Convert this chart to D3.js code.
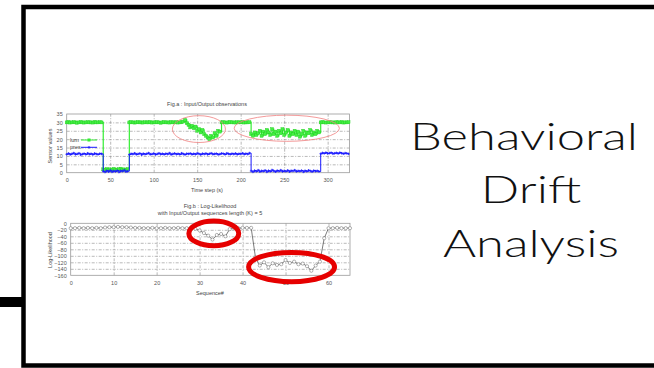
<!DOCTYPE html>
<html>
<head>
<meta charset="utf-8">
<script src="https://cdn.jsdelivr.net/npm/d3@7"></script>
<style>
  body { margin: 0; background: #fff; }
  svg { display: block; }
  .tick text { font-family: "Liberation Sans", Arial, sans-serif; font-size: 5.5px; fill: #555; }
  .grid line { stroke: #8a8a8a; stroke-width: 0.6; stroke-dasharray: 3,1.5,1,1.5; }
  .grid path { display: none; }
  .small { font-family: "Liberation Sans", Arial, sans-serif; font-size: 5.5px; fill: #444; }
</style>
</head>
<body>
<div id="chart"></div>
<script>
// time step between stored samples (s)
const timeStep = 2;

// Fig.a : lum samples, t = 0, 2, 4 ... 324
const lumValues = [
  30, 30.2, 29.9, 30, 30.1, 30, 29.8, 30, 30.2, 30, 29.9, 30, 30.1, 30, 30, 29.9, 30.2, 30, 30, 30.1, 30,
  2, 1.5, 2.2, 1.8, 2, 1.6, 2.3, 1.9, 1.7, 2.1, 2.4, 1.8, 2, 1.6, 2.2,
  30, 30.1, 30, 29.9, 30, 30.2, 30, 30, 29.9, 30.1, 30, 30, 30.2, 29.9, 30, 30, 30.1, 30, 29.8, 30, 30.1, 30, 30, 29.9, 30.2, 30, 30, 30.1, 29.9, 30, 30.1,
  30.5, 31.5, 29.5, 28.5, 27, 28, 26.5, 27.5, 25, 26, 24, 25.5, 23, 22, 21, 20, 22, 21, 23.5, 22, 25, 24.5,
  30, 30.1, 30, 29.9, 30, 30.2, 30, 30, 29.9, 30.1, 30, 30, 30.2, 29.9, 30, 30, 30.1,
  23, 22, 24, 22.5, 23.5, 25, 22, 24.5, 23, 25.5, 24, 22.5, 26, 23, 24.5, 22, 25, 23.5, 26, 22.5,
  24, 25.5, 22, 24, 23, 25, 22.5, 24.5, 21.5, 23, 25, 22, 24, 23.5, 25.5, 22.5, 24, 23, 25, 24,
  30, 30.1, 30, 29.9, 30, 30.2, 30, 30, 29.9, 30.1, 30, 30, 30.2, 29.9, 30, 30, 30.1
];

// Fig.a : pres samples, t = 0, 2, 4 ... 324
const presValues = [
  11, 11.5, 10.8, 11.3, 11.7, 10.9, 11.2, 11.6, 10.7, 11.1, 11.4, 10.9, 11.6, 11, 11.3, 10.8, 11.5, 11.1, 10.9, 11.4, 11.2,
  0.8, 0.4, 1.2, 0.6, 1.4, 0.5, 1, 0.7, 1.3, 0.4, 1.1, 0.9, 1.5, 0.6, 0.9,
  10.8, 11.3, 11.1, 11.6, 10.9, 11.2, 11.5, 10.7, 11.4, 11, 11.3, 11.7, 10.9, 11.1, 11.5, 10.8, 11.2, 11.6, 11, 11.3,
  10.9, 11.4, 11.1, 11.7, 10.8, 11.2, 11.5, 11, 11.3, 10.9, 11.6, 11.1, 10.8, 11.4, 11.2, 11.5, 10.9, 11.3, 11, 11.6,
  11.2, 10.8, 11.4, 11.1, 11.5, 10.9, 11.3, 11.6, 11, 11.2, 11.4, 10.8, 11.1, 11.5, 11.3, 10.9, 11.6, 11.2, 11, 11.4,
  11.1, 11.5, 10.9, 11.3, 11.2, 11.6, 11, 11.4, 11.1, 11.7,
  1, 0.5, 1.3, 0.8, 1.5, 0.6, 1.1, 0.9, 1.4, 0.5, 1.2, 0.8, 1.6, 1, 0.6, 1.3, 0.9, 1.5, 0.7, 1.1,
  0.8, 1.4, 0.6, 1.2, 1, 1.5, 0.7, 1.1, 0.9, 1.3, 0.5, 1.2, 0.8, 1.4, 1, 0.6, 1.3, 0.9, 1.1, 0.7,
  11.3, 11.8, 11.5, 12, 11.4, 11.7, 11.9, 11.3, 11.6, 11.8, 11.4, 12, 11.6, 11.3, 11.7, 11.5, 11.2
];

// Fig.b : log-likelihood for sequence# 0 ... 65
const logLikValues = [
  -15, -15, -14, -15, -14, -15, -14, -15, -13,
  -12, -12, -11, -12, -12, -13,
  -14, -14, -15, -15, -14, -15, -15, -14, -15, -15, -14, -15, -15, -14,
  -17, -22, -30, -38, -50, -36, -33, -40, -18, -15, -15, -14, -14, -14,
  -105, -130, -120, -135, -123, -128, -126, -113, -122, -118, -126, -124, -132, -146, -130, -118,
  -46,
  -15, -15, -14, -15, -15, -15
];

const xTicksA = [0, 50, 100, 150, 200, 250, 300];
const yTicksA = [0, 5, 10, 15, 20, 25, 30, 35];
const xTicksB = [0, 10, 20, 30, 40, 50, 60];
const yTicksB = [0, -20, -40, -60, -80, -100, -120, -140, -160];

// highlighted regions: [centre x, centre y, half-width, half-height] in data units
const driftZonesA = [[152, 26, 30.5, 8], [253, 26.5, 60.5, 7.8]];
const driftZonesB = [[33.3, -31, 5.8, 38], [51.4, -134.5, 10, 45]];

const titleLines = ['Behavioral', 'Drift', 'Analysis'];

const W = 654, H = 368;
const svg = d3.select('#chart').append('svg').attr('width', W).attr('height', H);

// slide frame
svg.append('rect').attr('x', 0).attr('y', 297).attr('width', 23).attr('height', 10).attr('fill', '#000');
svg.append('path')
  .attr('d', 'M 660 7 L 23.5 7 L 23.5 365.5 L 660 365.5')
  .attr('fill', 'none').attr('stroke', '#000').attr('stroke-width', 4.5);

// ---------- Fig.a ----------
const xA = d3.scaleLinear().domain([0, 325]).range([66.7, 349.4]);
const yA = d3.scaleLinear().domain([0, 35]).range([172.7, 114]);

function grid(g, x, y, xt, yt) {
  const [x0, x1] = x.range();
  const [y0, y1] = y.range();
  g.append('g').attr('class', 'grid').attr('transform', `translate(0,${y0})`)
    .call(d3.axisBottom(x).tickValues(xt).tickSize(-(y0 - y1)).tickFormat(''));
  g.append('g').attr('class', 'grid').attr('transform', `translate(${x0},0)`)
    .call(d3.axisLeft(y).tickValues(yt).tickSize(-(x1 - x0)).tickFormat(''));
}

function axes(g, x, y, xt, yt, xoff, yoff) {
  const [x0] = x.range();
  const [y0] = y.range();
  const ax = g.append('g').attr('transform', `translate(0,${y0 + xoff})`)
    .call(d3.axisBottom(x).tickValues(xt).tickSize(0).tickPadding(0));
  const ay = g.append('g').attr('transform', `translate(${x0 - yoff},0)`)
    .call(d3.axisLeft(y).tickValues(yt).tickSize(0).tickPadding(0));
  ax.select('.domain').remove();
  ay.select('.domain').remove();
  ay.selectAll('text').attr('dy', '0.35em');
}

const gA = svg.append('g');
grid(gA, xA, yA, xTicksA.slice(1), yTicksA.slice(1, -1));
gA.append('rect').attr('x', xA(0)).attr('y', yA(35)).attr('width', xA(325) - xA(0)).attr('height', yA(0) - yA(35))
  .attr('fill', 'none').attr('stroke', '#9a9a9a').attr('stroke-width', 0.8);
axes(gA, xA, yA, xTicksA, yTicksA, 5.5, 4);

const lumData = lumValues.map((v, i) => [i * timeStep, v]);
const presData = presValues.map((v, i) => [i * timeStep, v]);
const lineA = d3.line().x(d => xA(d[0])).y(d => yA(d[1])).curve(d3.curveStepAfter);

gA.append('path').datum(lumData).attr('d', lineA).attr('fill', 'none').attr('stroke', '#33ee33').attr('stroke-width', 1.2);
gA.selectAll('.lum').data(lumData).enter().append('rect').attr('class', 'lum')
  .attr('x', d => xA(d[0]) - 1.5).attr('y', d => yA(d[1]) - 1.5).attr('width', 3).attr('height', 3)
  .attr('fill', '#44f044').attr('stroke', '#22cc22').attr('stroke-width', 0.4);

gA.append('path').datum(presData).attr('d', lineA).attr('fill', 'none').attr('stroke', '#1a1aff').attr('stroke-width', 1);
gA.selectAll('.pres').data(presData).enter().append('path').attr('class', 'pres')
  .attr('d', d => `M${xA(d[0]) - 1.3},${yA(d[1])}h2.6M${xA(d[0])},${yA(d[1]) - 1.3}v2.6`)
  .attr('stroke', '#1a1aff').attr('stroke-width', 0.8);

// legend
const legA = [['lum', '#33ee33', 140], ['pres', '#1a1aff', 147.3]];
legA.forEach(([name, col, ly]) => {
  gA.append('text').attr('class', 'small').attr('x', 70).attr('y', ly).attr('dy', '0.35em').text(name);
  gA.append('line').attr('x1', 81).attr('x2', 97).attr('y1', ly).attr('y2', ly).attr('stroke', col).attr('stroke-width', 1);
});
gA.append('rect').attr('x', 87.5).attr('y', 138.5).attr('width', 3).attr('height', 3).attr('fill', '#33ee33');
gA.append('path').attr('d', 'M87.7,147.3h2.6M89,146v2.6').attr('stroke', '#1a1aff').attr('stroke-width', 0.8);

gA.selectAll('.zoneA').data(driftZonesA).enter().append('ellipse')
  .attr('cx', d => xA(d[0])).attr('cy', d => yA(d[1]))
  .attr('rx', d => xA(d[2]) - xA(0)).attr('ry', d => yA(0) - yA(d[3]))
  .attr('fill', 'none').attr('stroke', '#f08080').attr('stroke-width', 0.8);

gA.append('text').attr('class', 'small').attr('x', 207).attr('y', 104.5).attr('text-anchor', 'middle').attr('dy', '0.35em')
  .text('Fig.a : Input/Output observations');
gA.append('text').attr('class', 'small').attr('x', 207).attr('y', 190.5).attr('text-anchor', 'middle').attr('dy', '0.35em')
  .text('Time step (s)');
gA.append('text').attr('class', 'small').attr('text-anchor', 'middle').attr('dy', '0.35em')
  .attr('transform', 'translate(50,146) rotate(-90)').text('Sensor values');

// ---------- Fig.b ----------
const xB = d3.scaleLinear().domain([0, 65]).range([70.7, 350]);
const yB = d3.scaleLinear().domain([-160, 0]).range([275.3, 223.3]);

const gB = svg.append('g');
grid(gB, xB, yB, xTicksB.slice(1), yTicksB.slice(1, -1));
gB.append('rect').attr('x', xB(0)).attr('y', yB(0)).attr('width', xB(65) - xB(0)).attr('height', yB(-160) - yB(0))
  .attr('fill', 'none').attr('stroke', '#9a9a9a').attr('stroke-width', 0.8);
axes(gB, xB, yB, xTicksB, yTicksB, 5.5, 4);

const llData = logLikValues.map((v, i) => [i, v]);
gB.append('path').datum(llData)
  .attr('d', d3.line().x(d => xB(d[0])).y(d => yB(d[1])))
  .attr('fill', 'none').attr('stroke', '#444').attr('stroke-width', 0.7);
gB.selectAll('.ll').data(llData).enter().append('circle').attr('class', 'll')
  .attr('cx', d => xB(d[0])).attr('cy', d => yB(d[1])).attr('r', 1.6)
  .attr('fill', '#fff').attr('stroke', '#666').attr('stroke-width', 0.5);

gB.selectAll('.zoneB').data(driftZonesB).enter().append('ellipse')
  .attr('cx', d => xB(d[0])).attr('cy', d => yB(d[1]))
  .attr('rx', d => xB(d[2]) - xB(0)).attr('ry', d => yB(-160) - yB(-160 + d[3]))
  .attr('fill', 'none').attr('stroke', '#e60000').attr('stroke-width', 5);

gB.append('text').attr('class', 'small').attr('x', 210).attr('y', 206.5).attr('text-anchor', 'middle').attr('dy', '0.35em')
  .text('Fig.b : Log-Likelihood');
gB.append('text').attr('class', 'small').attr('x', 210).attr('y', 213).attr('text-anchor', 'middle').attr('dy', '0.35em')
  .text('with Input/Output sequences length (K) = 5');
gB.append('text').attr('class', 'small').attr('x', 210).attr('y', 293.5).attr('text-anchor', 'middle').attr('dy', '0.35em')
  .text('Sequence#');
gB.append('text').attr('class', 'small').attr('text-anchor', 'middle').attr('dy', '0.35em')
  .attr('transform', 'translate(50.5,250) rotate(-90)').text('Log-Likelihood');

// ---------- title ----------
// the slide text is wider than Lato, so stretch it horizontally to the measured width
const titleX = [524, 531, 531];
const title = svg.selectAll('.title').data(titleLines).enter().append('text').attr('class', 'title')
  .attr('text-anchor', 'middle')
  .style('font-family', 'Lato, "Noto Sans", sans-serif').style('font-weight', 300).style('font-size', '37px')
  .attr('fill', '#111').text(d => d);
const firstLen = title.node().getComputedTextLength();
const sx = 228 / firstLen;
title.attr('transform', (d, i) => `translate(${titleX[i]},${150 + i * 53.3}) scale(${sx},1)`);
</script>
</body>
</html>
